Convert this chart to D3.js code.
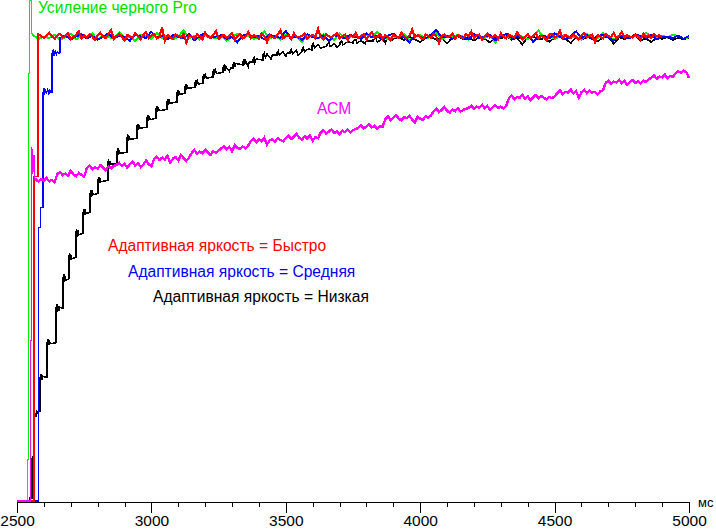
<!DOCTYPE html>
<html><head><meta charset="utf-8">
<script src="https://cdn.jsdelivr.net/npm/d3@7"></script>
<style>
html,body{margin:0;padding:0;background:#fff;}
svg{display:block;font-family:Arial,"Liberation Sans",sans-serif;}
</style></head>
<body>
<svg id="chart" width="716" height="530"></svg>
<script>
// ---- data (time in ms, value as % of steady level) ----
const xTicks = [2500, 3000, 3500, 4000, 4500, 5000];
const xUnit = "мс";
const labels = {
  green: "Усиление черного Pro",
  acm: "АСМ",
  red: "Адаптивная яркость = Быстро",
  blue: "Адаптивная яркость = Средняя",
  black: "Адаптивная яркость = Низкая"
};

const greenHead = [[2500,0],[2538,0],[2538,8.9],[2542,8.9],[2542,92.2],[2547,92.2],[2547,107.8],[2555,107.8],[2555,100.9],[2558,100.2]];
const greenStart = 2560, greenStep = 20;
const greenVals = [
100.4,99.6,100.1,99.8,100.5,99.3,100.0,100.7,99.5,100.2,
99.9,100.8,99.4,100.3,100.0,99.7,101.0,99.8,100.2,99.1,
100.5,100.1,99.6,100.9,99.8,100.3,99.5,100.0,101.5,99.7,
100.2,99.4,100.6,100.0,99.8,100.4,99.2,100.1,100.7,99.9,
100.3,99.6,100.0,101.2,99.7,100.2,99.5,100.5,99.9,100.1,
98.9,100.4,100.0,99.7,100.6,100.2,99.4,100.8,99.8,100.1,
100.3,99.6,100.5,99.9,101.1,100.0,99.5,100.2,99.8,100.6,
99.3,100.1,100.4,99.7,100.0,100.9,99.6,100.2,99.9,100.5,
100.1,99.4,100.7,100.0,99.8,100.3,98.8,100.4,100.1,99.7,
100.6,100.0,99.5,100.2,101.4,99.8,100.3,99.6,100.1,100.5,
99.9,100.2,99.4,100.6,100.0,99.7,100.8,100.1,99.5,100.3,
100.0,99.8,100.4,99.6,100.9,100.1,99.7,100.3,99.9,100.5,
100.2,99.6,100.0];

const redHead = [[2500,0],[2563,0],[2563,70.0],[2578,70.0],[2578,100.9]];
const redStart = 2580, redStep = 10;
const redVals = [
100.6,100.2,99.8,100.4,100.9,100.1,99.6,100.3,100.7,99.9,
100.2,100.8,99.5,100.0,100.5,101.2,99.7,100.3,99.9,100.6,
100.1,99.4,100.4,100.9,100.0,99.8,100.6,101.5,99.6,100.2,
100.7,100.0,99.3,100.5,100.1,99.9,100.8,100.2,99.5,100.4,
101.0,99.8,100.3,100.6,99.7,100.1,102.1,99.2,100.4,100.0,
99.6,100.5,100.2,99.9,100.7,98.8,100.3,100.1,99.7,100.6,
100.2,99.5,100.9,100.0,99.8,100.4,101.3,99.6,100.1,100.5,
99.9,100.3,100.8,99.4,100.2,100.6,99.7,100.0,101.1,99.8,
100.4,100.1,99.6,100.7,100.2,98.9,100.5,100.0,99.8,100.6,
101.4,99.7,100.2,100.4,99.5,100.8,100.1,99.9,100.3,100.7,
99.6,100.2,100.5,99.8,101.8,100.0,99.4,100.6,100.2,99.9,
100.4,100.8,99.7,100.1,100.5,99.3,100.3,100.0,100.9,99.8,
100.2,100.6,99.5,100.3,101.0,99.9,100.1,100.7,99.6,100.4,
100.0,99.2,100.5,100.2,99.8,100.9,100.1,99.7,100.3,101.6,
99.9,100.4,100.0,99.5,100.6,100.2,99.8,100.7,100.1,98.7,
100.3,100.5,99.9,100.2,100.8,99.6,100.4,100.0,99.7,100.6,
100.1,101.2,99.8,100.3,100.5,99.4,100.2,100.7,99.9,100.0,
100.4,99.6,100.8,100.1,99.7,100.5,100.2,99.9,101.0,100.3,
99.5,100.1,100.6,99.8,100.3,100.9,99.6,100.2,100.0,99.3,
100.5,100.7,99.9,100.2,101.3,99.7,100.4,100.1,99.8,100.6,
100.0,99.5,100.3,100.8,99.9,100.2,100.5,98.9,100.4,100.1,
99.7,100.6,100.2,100.0,100.9,99.6,100.3,101.1,99.8,100.4,
100.1,99.9,100.5,100.2,99.4,100.7,100.0,100.3,99.8,100.6,
100.2,100.4,100.0];

const blueHead = [[2500,0],[2579,0],[2579,59.0],[2586,59.0],[2586,63.3],[2597,63.3],[2597,88.1],[2600,89.0],[2603,87.5],[2606,88.7],[2610,87.8],[2614,88.9],[2618,87.6],[2622,88.5],[2626,88.0],[2630,88.1],[2630,96.5],[2634,97.2],[2638,96.0],[2642,96.9],[2646,96.2],[2650,96.8],[2655,96.4],[2660,96.5]];
const blueStart = 2660, blueStep = 20;
const blueVals = [
99.8,100.3,99.5,100.1,100.6,99.7,100.2,99.4,100.0,100.8,
99.6,100.3,100.0,99.2,100.5,100.1,99.8,101.1,99.9,100.2,
99.5,100.4,100.0,99.7,100.6,99.3,100.2,100.9,99.8,100.1,
100.4,99.6,100.0,98.9,100.3,100.7,99.9,100.2,99.5,100.5,
100.1,99.8,101.3,99.7,100.2,99.4,100.6,100.0,99.8,100.3,
99.1,100.4,100.1,99.7,100.5,100.0,99.6,100.8,99.9,100.2,
99.4,100.3,100.7,99.8,100.1,98.8,100.4,100.0,99.7,100.5,
101.5,99.9,100.2,99.6,100.3,100.0,99.5,100.6,99.8,100.1,
100.4,99.3,100.0,100.7,99.8,100.2,99.6,100.5,99.0,100.1,
100.3,99.7,100.8,100.0,99.5,100.2,101.2,99.8,100.4,99.6,
100.1,100.5,99.9,99.2,100.3,100.0,99.7,100.6,100.2,99.8,
100.4,99.5,100.1,100.0,99.8,100.3,99.6,100.2];

const blackHead = [
[2500,0],[2546,0],[2546,0.6],[2555,0.6],[2555,9.1],[2556,8.0],[2557,9.6],[2558,8.4],[2560,9.0],
[2561,9.0],[2561,18.0],[2563,19.0],[2565,17.6],[2567,18.8],[2570,18.2],[2573,19.5],[2576,19.0],[2586,19.4],
[2586,26.6],[2590,27.3],[2592,26.1],[2595,26.9],[2612,26.6],
[2612,34.1],[2615,34.9],[2617,33.6],[2620,34.6],[2623,33.9],[2645,34.1],
[2645,41.5],[2648,42.4],[2650,40.8],[2653,42.0],[2656,41.0],[2659,41.8],[2671,41.5],
[2671,47.9],[2674,48.8],[2676,47.2],[2679,48.5],[2682,47.6],[2693,47.9],
[2693,52.5],[2696,53.4],[2698,51.9],[2701,53.0],[2704,52.2],[2719,52.5],
[2719,57.7],[2722,58.6],[2724,57.0],[2727,58.3],[2730,57.4],[2746,57.7],
[2746,62.2],[2749,63.0],[2751,61.6],[2754,62.8],[2757,61.9],[2772,62.2],
[2772,66.3],[2775,67.1],[2777,65.6],[2780,66.9],[2783,66.0],[2801,66.3],
[2801,69.1],[2804,69.9],[2806,68.5],[2809,69.6],[2812,68.8],[2838,69.1],
[2838,72.8],[2841,73.6],[2843,72.1],[2846,73.3],[2850,72.5],[2872,72.8],
[2872,75.2],[2875,76.0],[2877,74.6],[2880,75.7],[2884,74.9],[2909,75.2],
[2909,78.2],[2912,79.0],[2914,77.5],[2917,78.7],[2921,77.9],[2946,78.2],
[2946,80.6],[2949,81.3],[2951,80.0],[2954,81.0],[2958,80.3],[2984,80.6],
[2984,82.5],[2987,83.2],[2989,81.9],[2992,83.0],[2996,82.2],[3017,82.5],
[3017,84.4],[3020,85.1],[3022,83.8],[3025,84.9],[3029,84.1],[3058,84.4],
[3058,86.0],[3061,86.7],[3063,85.4],[3066,86.5],[3070,85.7],[3095,86.0],
[3095,87.9],[3098,88.6],[3100,87.3],[3103,88.3],[3107,87.6],[3125,87.9],
[3125,89.2],[3128,89.9],[3130,88.6],[3133,89.6],[3137,88.9],[3162,89.2],
[3162,90.1],[3165,90.7],[3167,89.5],[3171,90.5],[3175,89.8],[3192,90.1],
[3192,91.4],[3195,92.0],[3197,90.9],[3201,91.8],[3205,91.1],[3229,91.4],
[3229,92.4],[3232,93.0],[3234,91.9],[3238,92.8],[3242,92.1],[3266,92.4],
[3266,93.3],[3270,93.8],[3273,92.8],[3277,93.6],[3290,92.6],[3295,93.3],[3303,93.3],
[3303,94.0],[3307,94.5],[3310,93.5],[3314,94.3],[3340,94.0],
[3340,94.6],[3344,95.1],[3347,94.1],[3351,94.9],[3360,93.6],[3364,94.6],[3378,94.6],
[3378,95.0],[3382,95.5],[3385,94.5],[3390,95.3],[3415,95.0],
[3415,96.1],[3420,96.6],[3424,95.6],[3430,96.4],[3445,95.2],[3450,96.1],[3467,96.1],
[3467,96.5],[3472,97.0],[3476,96.0],[3490,96.8],[3500,95.8],[3505,96.5],[3515,96.5],
[3515,96.8],[3520,97.3],[3525,96.3],[3540,97.1],[3545,96.1],[3560,96.8],
[3560,97.2],[3565,97.7],[3570,96.8],[3585,97.5],[3597,97.2],
[3597,98.1],[3602,98.6],[3607,97.7],[3620,98.4],[3630,97.6],[3653,98.1],
[3653,98.3],[3660,98.8],[3665,97.9],[3680,98.6],[3690,97.8],[3701,98.3],
[3701,98.7],[3708,99.2],[3713,98.3],[3730,99.0],[3750,98.7],
[3750,99.1],[3760,99.5],[3765,98.6],[3780,99.3],[3795,98.5],[3800,99.2],[3824,99.1],
[3824,99.4],[3835,99.8],[3840,98.9],[3860,99.6],[3870,98.7],[3875,99.5],[3898,99.4]];
const blackStart = 3900, blackStep = 20;
const blackVals = [
99.6,99.9,99.3,100.1,99.5,98.9,99.8,100.0,99.4,99.7,
98.6,99.9,100.2,99.5,99.8,99.2,100.0,99.6,98.8,99.9,
99.7,100.3,99.4,99.8,98.4,99.9,100.1,99.5,99.7,99.0,
99.8,100.2,99.6,98.7,99.9,99.4,100.0,99.7,99.1,99.8,
100.1,98.5,99.9,99.6,99.8,100.2,99.3,99.7,98.9,99.9,
99.6,100.0,99.4,99.8,99.5,99.9];

const acmHead = [[2500,0],[2551,0],[2551,34.6],[2554,34.6],[2554,76.2],[2556,70.5],[2558,75.8],[2561,71.0],[2563,74.5],[2566,69.4]];
const acmStart = 2570, acmStep = 10;
const acmVals = [
69.3,68.8,69.4,69.0,69.6,68.9,69.2,68.7,
70.5,70.9,70.2,70.6,70.1,71.2,70.4,70.0,70.7,70.3,69.9,
71.8,72.3,71.5,72.0,71.6,72.4,71.9,71.3,72.1,71.7,72.2,
72.4,72.9,72.2,72.7,71.8,72.6,73.1,72.3,72.8,72.0,72.5,73.4,72.6,72.1,
73.7,74.2,73.5,74.0,73.6,74.4,72.9,73.8,74.1,73.4,74.6,73.9,73.3,74.0,
75.0,75.6,74.8,75.3,74.9,75.7,75.1,74.6,75.4,75.0,75.5,
76.0,76.5,75.8,76.3,75.4,76.7,76.1,75.9,76.4,76.0,76.6,
77.6,78.1,77.3,77.9,77.5,78.3,76.8,77.7,78.0,77.4,78.2,77.8,77.5,
78.2,78.7,78.0,78.5,79.1,78.3,77.9,78.6,78.1,78.8,77.6,78.4,78.2,
79.4,79.9,79.2,79.6,80.1,79.3,79.7,79.0,79.8,79.5,80.0,79.4,79.9,80.2,
80.4,81.0,80.3,80.7,81.2,80.5,80.9,80.2,80.8,80.6,
82.3,82.9,82.1,82.6,83.2,82.4,82.0,82.7,82.5,83.0,82.2,81.6,82.8,82.4,82.1,82.9,82.6,83.1,
84.0,84.6,83.8,84.3,84.9,84.1,83.7,84.4,84.0,84.7,83.9,84.3,84.5,
84.7,85.2,84.5,85.0,84.8,85.4,84.6,85.1,84.3,84.9,85.3,84.7,85.0,84.6,85.2,
86.8,87.4,86.6,87.1,86.9,87.6,86.7,87.2,86.4,87.0,87.5,86.8,87.3,86.9,86.5,87.1,86.8,87.2,
87.9,88.5,87.7,88.2,88.0,88.7,87.8,88.3,86.9,88.1,88.6,87.9,88.4,88.0,88.2,87.6,88.3,88.5,
90.1,90.6,89.9,90.4,90.2,90.8,90.0,90.5,89.7,90.3,90.7,90.1,90.4,90.0,90.6,90.3,90.9,
91.2,91.7,91.0,91.5,91.3,91.9,91.1,91.6,91.4,
92.2,92.6,92.3,92.7,92.4,
91.2];

// ---- build ----
function tail(head, start, step, vals) {
  return [head[head.length - 1]].concat(vals.map((v, i) => [start + i * step, v]));
}
const data = [
  {key: "black", color: "#000000", head: blackHead, tail: tail(blackHead, blackStart, blackStep, blackVals), w: 1.8},
  {key: "green", color: "#00ee00", head: greenHead, tail: tail(greenHead, greenStart, greenStep, greenVals), w: 2},
  {key: "blue",  color: "#0000ff", head: blueHead,  tail: tail(blueHead, blueStart, blueStep, blueVals), w: 2},
  {key: "red",   color: "#ff0000", head: redHead,   tail: tail(redHead, redStart, redStep, redVals), w: 2.2},
  {key: "acm",   color: "#ff00ff", head: acmHead,   tail: tail(acmHead, acmStart, acmStep, acmVals), w: 2.4}
];

const svg = d3.select("#chart");
const x = d3.scaleLinear().domain([2500, 5000]).range([17, 689]);
const y = d3.scaleLinear().domain([0, 100]).range([501, 37]);

const line = d3.line().x(d => x(d[0])).y(d => y(d[1]));

const g = svg.append("g");
data.forEach(s => {
  g.append("path").attr("d", line(s.tail)).attr("fill", "none")
    .attr("stroke", s.color).attr("stroke-width", s.w).attr("shape-rendering", "crispEdges");
  g.append("path").attr("d", line(s.head)).attr("fill", "none")
    .attr("stroke", s.color).attr("stroke-width", s.key === "black" ? 1.5 : 1.2)
    .attr("shape-rendering", "crispEdges");
});

// axis
const axisY = 502;
const minor = d3.range(2500, 5001, 100).filter(v => v % 500 !== 0);
svg.append("g").attr("transform", `translate(0,${axisY})`)
  .call(d3.axisBottom(x).tickValues(minor).tickSize(5).tickSizeOuter(0).tickFormat(""))
  .call(gg => gg.select(".domain").remove())
  .attr("shape-rendering", "crispEdges");
const ax = svg.append("g").attr("transform", `translate(0,${axisY})`)
  .call(d3.axisBottom(x).tickValues(xTicks).tickSize(11).tickSizeOuter(0).tickFormat(d3.format("d")).tickPadding(2))
  .attr("shape-rendering", "crispEdges");
ax.selectAll("text").attr("font-size", 15.5).attr("font-family", "Arial, 'Liberation Sans', sans-serif").attr("fill", "#000");
ax.selectAll("line,path").attr("stroke", "#000");

svg.append("text").attr("x", 698).attr("y", 507).attr("font-size", 13).attr("fill", "#000").text(xUnit);

// labels
const lab = [
  {t: labels.green, x: 38, y: 13, c: "#00dd00"},
  {t: labels.acm, x: 317, y: 114, c: "#ff00ff"},
  {t: labels.red, x: 108, y: 251, c: "#ff0000"},
  {t: labels.blue, x: 128, y: 277, c: "#0000ff"},
  {t: labels.black, x: 153, y: 302, c: "#000000"}
];
svg.append("g").selectAll("text").data(lab).join("text")
  .attr("x", d => d.x).attr("y", d => d.y).attr("fill", d => d.c)
  .attr("font-size", 15.6).text(d => d.t);
</script>
</body></html>
